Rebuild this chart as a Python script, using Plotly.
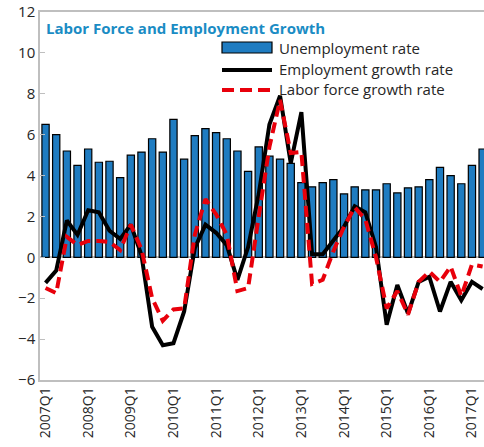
import plotly.graph_objects as go

# quarters 2007Q1 .. 2017Q2
quarters = [f"{y}Q{q}" for y in range(2007, 2018) for q in range(1, 5)][:42]
tick_quarters = [f"{y}Q1" for y in range(2007, 2018)]

unemployment_rate = [6.5, 6.0, 5.2, 4.5, 5.3, 4.65, 4.7, 3.9, 5.0, 5.15,
                     5.8, 5.15, 6.75, 4.8, 5.95, 6.3, 6.1, 5.8, 5.2, 4.2,
                     5.4, 4.95, 4.8, 4.6, 3.65, 3.45, 3.65, 3.8, 3.1, 3.45,
                     3.3, 3.3, 3.6, 3.15, 3.4, 3.45, 3.8, 4.4, 4.0, 3.6,
                     4.5, 5.3]

employment_growth = [-1.25, -0.65, 1.8, 1.1, 2.3, 2.2, 1.3, 0.9, 1.6, 0.1,
                     -3.4, -4.3, -4.2, -2.65, 0.45, 1.6, 1.2, 0.6, -1.1, 0.5,
                     3.1, 6.5, 7.9, 4.6, 7.1, 0.15, 0.15, 0.8, 1.5, 2.5,
                     2.2, 0.5, -3.3, -1.35, -2.75, -1.2, -0.95, -2.65, -1.2, -2.1,
                     -1.2, -1.55]

labor_force_growth = [-1.5, -1.75, 1.0, 0.6, 0.8, 0.8, 0.75, 0.35, 1.6, 0.4,
                      -2.0, -3.1, -2.55, -2.5, 1.1, 2.85, 2.1, 1.1, -1.65, -1.5,
                      2.0, 5.4, 7.7, 5.1, 5.15, -1.3, -1.1, 0.3, 1.5, 2.45,
                      1.85, 0.0, -2.5, -1.65, -2.8, -1.2, -0.7, -1.2, -0.45, -1.9,
                      -0.35, -0.45]

series_names = ["Unemployment rate", "Employment growth rate", "Labor force growth rate"]

FONT = "Open Sans"
AXIS_GRAY = "#bfbfbf"
BAR_BLUE = "#1f7cc1"
RED = "#e8000b"
DASH = "11px,6px"
W, H = 484, 447
L, T, B = 40, 12, 67
PW, PH = W - L, H - T - B


def px(x):
    # window pixel -> paper x
    return (x - L) / PW


def py(y):
    # window pixel -> paper y
    return 1 - (y - T) / PH


fig = go.Figure()

fig.add_trace(go.Bar(
    x=quarters, y=unemployment_rate,
    name=series_names[0],
    marker_color=BAR_BLUE,
    marker_line_color="black",
    marker_line_width=1.2,
))

fig.add_trace(go.Scatter(
    x=quarters, y=employment_growth,
    name=series_names[1],
    mode="lines",
    line=dict(color="black", width=4),
))

fig.add_trace(go.Scatter(
    x=quarters, y=labor_force_growth,
    name=series_names[2],
    mode="lines",
    line=dict(color=RED, width=4, dash=DASH),
))

# legend drawn by hand so the bar key is a wide box like the original
fig.add_shape(type="rect", xref="paper", yref="paper",
              x0=px(222), x1=px(272), y0=py(53), y1=py(42),
              fillcolor=BAR_BLUE, line=dict(color="black", width=1.2))
fig.add_shape(type="line", xref="paper", yref="paper",
              x0=px(222), x1=px(272), y0=py(70), y1=py(70),
              line=dict(color="black", width=4))
fig.add_shape(type="line", xref="paper", yref="paper",
              x0=px(222), x1=px(272), y0=py(90), y1=py(90),
              line=dict(color=RED, width=4, dash="12px,6px"))
for name, yy in zip(series_names, [48, 69, 89]):
    fig.add_annotation(text=name, xref="paper", yref="paper",
                       x=px(277), y=py(yy), xanchor="left", yanchor="middle",
                       showarrow=False,
                       font=dict(family=FONT, size=15, color="#262626"))

fig.update_layout(
    width=W, height=H,
    margin=dict(l=L, r=0, t=T, b=B),
    plot_bgcolor="white",
    paper_bgcolor="white",
    bargap=0.32,
    showlegend=False,
    font=dict(family=FONT, size=15, color="#262626"),
    title=dict(
        text="<b>Labor Force and Employment Growth</b>",
        x=46 / W, xanchor="left",
        y=1 - 29 / H, yanchor="middle",
        font=dict(family=FONT, size=15, color="#1a8cc4"),
    ),
    xaxis=dict(
        type="category",
        range=[-0.52, 41.13],
        tickmode="array",
        tickvals=tick_quarters,
        ticktext=tick_quarters,
        tickangle=-90,
        tickfont=dict(size=14, color="#262626"),
        showgrid=False,
        showline=True, mirror=True,
        linecolor=AXIS_GRAY, linewidth=1.5,
        ticks="",
    ),
    yaxis=dict(
        range=[-6, 12],
        dtick=2,
        showgrid=False,
        showline=True,
        linecolor=AXIS_GRAY, linewidth=1.5,
        ticks="inside", ticklen=5, tickcolor=AXIS_GRAY,
        zeroline=True, zerolinecolor=AXIS_GRAY, zerolinewidth=1.5,
        tickfont=dict(size=15, color="#262626"),
        ticklabeloverflow="allow",
    ),
)

# drop the browser's default 8px body margin so the figure fills the window
fig.write_html(
    "out.html",
    config={"displayModeBar": False},
    post_script="document.body.style.margin='0';document.body.style.overflow='hidden';",
)
